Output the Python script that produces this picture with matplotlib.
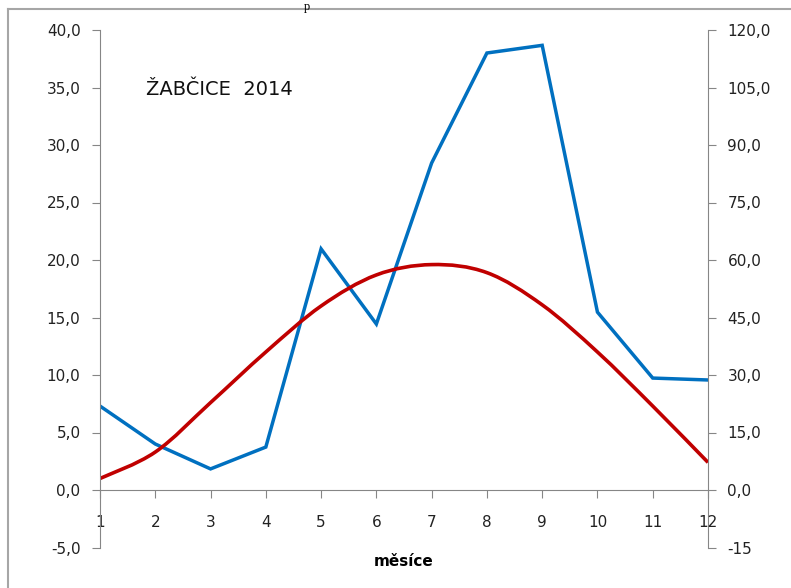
import numpy as np
import matplotlib
matplotlib.use("Agg")
import matplotlib.pyplot as plt
from matplotlib.path import Path
from matplotlib.patches import PathPatch
from matplotlib.lines import Line2D

# --- data ---
months = [1, 2, 3, 4, 5, 6, 7, 8, 9, 10, 11, 12]
temperature = [1.0, 3.3, 7.6, 12.0, 16.0, 18.7, 19.6, 18.9, 16.1, 12.0, 7.3, 2.4]
precipitation = [21.9, 12.0, 5.5, 11.2, 62.9, 43.3, 85.3, 114.0, 116.0, 46.4, 29.2, 28.7]

left_ticks = [-5, 0, 5, 10, 15, 20, 25, 30, 35, 40]
right_ticks = [-15, 0, 15, 30, 45, 60, 75, 90, 105, 120]
right_labels = ["-15", "0,0", "15,0", "30,0", "45,0", "60,0", "75,0", "90,0", "105,0", "120,0"]

RED = "#C00000"
BLUE = "#0070C0"
GREY = "#868686"


def smooth_path(x, y):
    # Excel-style smoothed line: cubic Bezier segments, Catmull-Rom control points
    pts = np.column_stack([x, y]).astype(float)
    verts = [pts[0]]
    codes = [Path.MOVETO]
    n = len(pts)
    for i in range(n - 1):
        p0 = pts[i - 1] if i > 0 else pts[i]
        p1, p2 = pts[i], pts[i + 1]
        p3 = pts[i + 2] if i + 2 < n else pts[i + 1]
        c1 = p1 + (p2 - p0) / 6.0
        c2 = p2 - (p3 - p1) / 6.0
        verts += [c1, c2, p2]
        codes += [Path.CURVE4] * 3
    return Path(verts, codes)


fig = plt.figure(figsize=(7.91, 5.88), dpi=100)
ax = fig.add_axes([100 / 791, 1 - 547.5 / 588, 608 / 791, 517.5 / 588])
ax2 = ax.twinx()
ax.set_zorder(2)
ax.patch.set_visible(False)

# precipitation (right axis)
ax2.plot(months, precipitation, color=BLUE, lw=2.5, solid_joinstyle="miter")
ax2.set_ylim(-15, 120)
ax2.set_yticks(right_ticks)
ax2.set_yticklabels(right_labels)

# temperature (left axis), smoothed
ax.add_patch(PathPatch(smooth_path(months, temperature), facecolor="none",
                       edgecolor=RED, lw=2.6))
ax.set_xlim(1, 12)
ax.set_ylim(-5, 40)
ax.set_yticks(left_ticks)
ax.set_yticklabels([f"{v:.1f}".replace(".", ",") for v in left_ticks])
ax.set_xticks(months)

for a in (ax, ax2):
    for s in a.spines.values():
        s.set_visible(False)
ax.spines["left"].set_visible(True)
ax.spines["left"].set_color(GREY)
ax.spines["bottom"].set_visible(True)
ax.spines["bottom"].set_color(GREY)
ax.spines["bottom"].set_position(("data", 0))
ax2.spines["right"].set_visible(True)
ax2.spines["right"].set_color(GREY)

ax.tick_params(axis="y", direction="out", length=6, color=GREY, labelsize=11,
               labelcolor="#222222", pad=8)
ax.tick_params(axis="x", direction="out", length=6, color=GREY, labelsize=11,
               labelcolor="#222222", pad=12)
ax2.tick_params(axis="y", direction="out", length=6, color=GREY, labelsize=11,
                labelcolor="#222222", pad=8)

ax.text(0.076, 0.885, "ŽABČICE  2014", transform=ax.transAxes, fontsize=14,
        color="#111111", va="center", ha="left")
ax.set_xlabel("měsíce", fontsize=11, fontweight="bold")
ax.xaxis.set_label_coords(0.5, -0.012, transform=ax.transAxes)

# outer frame (left and top edge visible)
fig.add_artist(Line2D([8 / 791, 8 / 791], [0, 1 - 9 / 588], color="#A6A6A6", lw=1.5,
                      transform=fig.transFigure))
fig.add_artist(Line2D([8 / 791, 1], [1 - 9 / 588, 1 - 9 / 588], color="#A6A6A6", lw=1.5,
                      transform=fig.transFigure))
fig.text(307 / 791, 1 - 1 / 588, "p", family="Liberation Serif", fontsize=9,
         ha="center", va="top")

fig.savefig("out.png", dpi=100)
